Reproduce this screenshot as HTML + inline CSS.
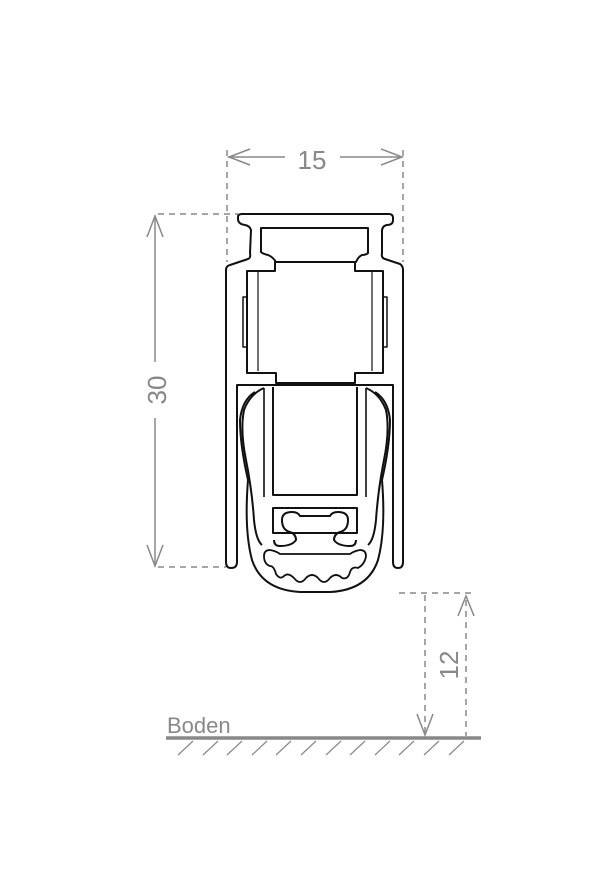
<!DOCTYPE html>
<html><head><style>html,body{margin:0;padding:0;background:#fff}</style></head>
<body>
<svg width="614" height="886" viewBox="0 0 614 886" xmlns="http://www.w3.org/2000/svg">
<g stroke="#888" fill="none" stroke-width="1.5">
 <path d="M227 150V262M403 150V262" stroke-dasharray="6,5"/>
 <path d="M228 157H285M340 157H402"/>
 <path d="M250 149L229 157L250 165M381 149L402 157L381 165"/>
 <path d="M158 214H238M158 567H226" stroke-dasharray="6,5"/>
 <path d="M155 216V362M155 418V565"/>
 <path d="M147 237L155 216L163 237M147 545L155 566L163 545"/>
 <path d="M399 593H476" stroke-dasharray="6,5"/>
 <path d="M425 595V736M466 600V736" stroke-dasharray="6,5"/>
 <path d="M417 714L425 735L433 714M458 616L466 596L474 616"/>
 <path d="M166 738H481" stroke-width="3.5"/>
 <g stroke-width="1.2">
  <path d="M178 755L193 741M203 755L218 741M227 755L242 741M252 755L267 741M276 755L291 741M301 755L316 741M326 755L341 741M350 755L365 741M375 755L390 741M399 755L414 741M424 755L439 741M449 755L464 741"/>
 </g>
</g>
<g fill="#888" font-family="'Liberation Sans',sans-serif">
 <text x="312" y="169" font-size="26" text-anchor="middle">15</text>
 <text transform="translate(166,390) rotate(-90)" font-size="26" text-anchor="middle">30</text>
 <text transform="translate(458,665) rotate(-90)" font-size="26" text-anchor="middle">12</text>
 <text x="167" y="733" font-size="22">Boden</text>
</g>
<g stroke="#111" fill="none" stroke-width="2" stroke-linejoin="round">
 <path d="M226 562V270Q226 266 230 265L248 259Q251 258 250 253L251 230Q250 226 245 225Q238 224 238 219V217Q238 214 242 214H389Q393 214 393 218V220Q393 225 387 225Q382 226 382 231V253Q381 258 385 259L400 264Q403 266 403 270V562Q403 568 398 568Q393 568 393 562V385H237V562Q237 568 231 568Q226 568 226 562Z"/>
 <path d="M261 228H368V253Q366 255 362 255Q358 257 356 262H276Q273 257 268 255Q263 254 261 252Z"/>
 <path d="M247 271H275V262H355V271H383V373H355V383H276V373H247Z"/>
 <path d="M258 272V371M372 272V371" stroke-width="1.2"/>
 <path d="M243 297H247V347H243ZM383 297H387V347H383Z" stroke-width="1.5"/>
 <path d="M273 387V495H357V387"/>
 <path d="M264 388V497M366 388V497" stroke-width="1.6"/>
 <path d="M273 508H357V533H273Z"/>
 <path d="M282 520Q282 512 292 512Q298 512 300 516H330Q332 512 338 512Q348 512 348 520Q348 530 340 532Q334 534 334 540Q338 546 350 546Q356 546 356 540M282 520Q282 530 290 532Q296 534 296 540Q292 546 280 546Q274 546 274 540"/>
 <path d="M264 388Q250 394 244 410Q240 430 246 460Q252 490 254 520Q256 540 262 545"/>
 <path d="M255 392Q242 400 240 420Q240 445 248 480"/>
 <path d="M366 388Q380 394 386 410Q390 430 384 460Q378 490 376 520Q374 540 368 545"/>
 <path d="M375 392Q388 400 390 420Q390 445 382 480"/>
 <path d="M248 480Q244 530 252 560Q262 590 300 592H330Q368 590 378 560Q386 530 382 480"/>
 <path d="M264 556Q264 550 270 550Q276 551 280 554H350Q354 551 360 550Q366 550 366 556Q365 564 358 568Q352 566 350 572Q348 580 342 578Q336 572 330 578Q324 586 318 578Q312 572 306 578Q300 586 294 578Q288 572 284 576Q280 580 276 574Q274 566 270 566Q264 564 264 556Z" stroke-width="1.8"/>
</g>
</svg>
</body></html>
